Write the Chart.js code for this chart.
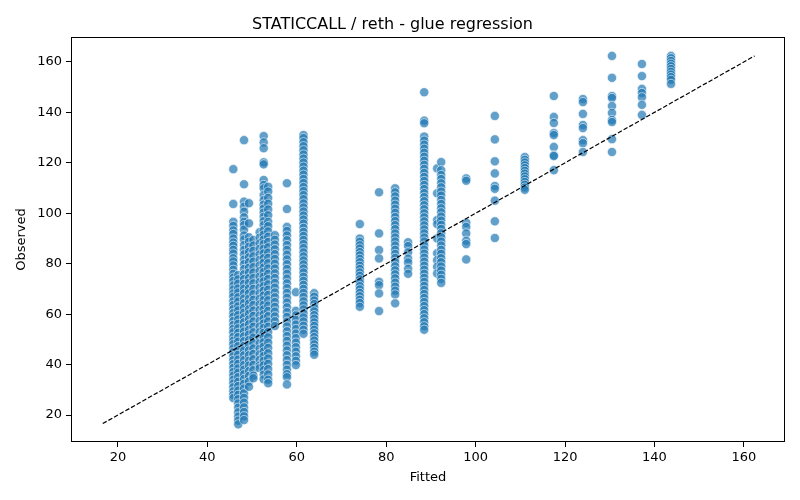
<!DOCTYPE html>
<html>
<head>
<meta charset="utf-8">
<script src="https://cdn.jsdelivr.net/npm/chart.js@4.4.1/dist/chart.umd.min.js"></script>
<style>
  html, body { margin: 0; padding: 0; background: #fff; }
  #wrap { width: 800px; height: 500px; }
</style>
</head>
<body>
<div id="wrap"><canvas id="glueChart"></canvas></div>
<script>
// fitted value of each column of points
const fitted = [45.8, 46.9, 48.2, 49.3, 50.3, 51.7, 52.6, 53.6, 55.1, 57.8, 59.8, 61.5, 63.9,
    74.1, 78.4, 82.0, 84.9, 88.5, 91.4, 92.3, 97.9, 104.3, 111.0, 117.5, 124.0, 130.5, 137.2, 143.7];

// observed values read per column
const obs458 = [117.5, 103.7, 96.6, 95, 93.2, 91.8, 90, 88.4, 87.1, 85.5, 84, 82.2, 80.9, 79.3, 77.6, 76, 74.5, 73.1, 71.4, 69.8,
    68.2, 66.9, 65.1, 63.6, 62, 60.4, 59, 57.3, 55.7, 54.2, 52.8, 51, 49.5, 48.1, 46.4, 44.9, 43.3, 41.8, 40.2, 38.7, 37.1, 35.6,
    34, 32.5, 31, 29.4, 28, 26.7];
const obs469 = [75.5, 73.8, 72.1, 70.2, 68.6, 66.7, 65, 63.1, 61.5, 59.6, 57.9, 56.2, 54.4, 52.6, 50.9, 49.1, 47.3, 45.6, 43.9, 42,
    40.3, 38.5, 36.8, 35, 33.2, 31.5, 29.7, 28, 26.3, 24.6, 22.9, 21.1, 19.4, 17.8, 16.3];
const obs482 = [129, 111.5, 104.6, 102.6, 100.6, 98.4, 96.6, 95.3, 93.5, 91.2, 89.6, 87.4, 85.5, 83.7, 81.6, 79.8, 77.9, 75.8, 73.9,
    72, 70.1, 68.3, 66.2, 64.4, 62.5, 60.6, 58.7, 56.8, 54.9, 53.1, 51.2, 49.3, 47.4, 45.6, 43.7, 41.8, 39.9, 38, 36.2, 34.3, 32.4,
    30.5, 28.6, 26.8, 24.9, 23, 21.2, 19.5, 18];
const obs493 = [104, 96, 90.5, 88.7, 86.7, 84.6, 82.5, 80.6, 78.4, 76.5, 74.3, 72.4, 70.2, 68.3, 66.1, 64.2, 62, 60.1, 57.9, 56,
    53.8, 51.9, 49.7, 47.8, 45.6, 43.7, 41.5, 39.6, 37.4, 35.5, 33.3, 31.2];
const obs503 = [89.4, 87.2, 85.1, 82.9, 80.8, 78.6, 76.5, 74.3, 72.2, 70, 67.9, 65.7, 63.6, 61.4, 59.3, 57.1, 55, 52.8, 50.7, 48.5,
    46.4, 44.2, 42.1, 39.9, 37.8, 35.6, 34.6];
const obs517 = [92.5, 90.3, 88.1, 85.9, 83.7, 81.5, 79.3, 77.1, 74.9, 72.7, 70.5, 68.3, 66.1, 63.9, 61.7, 59.5, 57.3, 55.1, 52.9,
    50.7, 48.5, 46.3, 44.1, 41.9, 39.7, 38.6];
const obs526 = [130.6, 128.1, 125.8, 120.2, 119.4, 113.2, 111.2, 109.9, 107.2, 105.2, 103.4, 101.9, 100.3, 98.6, 96.9, 95.3, 93.3,
    91.5, 89.6, 87.8, 85.9, 84.1, 82.2, 80.4, 78.5, 76.7, 74.8, 73, 71.1, 69.3, 67.4, 65.6, 63.7, 61.9, 60, 58.2, 56.3, 54.5, 52.6,
    50.8, 48.9, 47.1, 45.2, 43.4, 41.5, 39.7, 37.8, 36, 34.2];
const obs536 = [110.5, 108.6, 106.1, 103.8, 101.5, 99.2, 96.6, 94.9, 92.8, 90.7, 88.6, 86.5, 84.4, 82.3, 80.2, 78.1, 76, 73.9, 71.8,
    69.7, 67.6, 65.5, 63.4, 61.3, 59.2, 57.1, 55, 52.9, 50.8, 48.7, 46.6, 44.5, 42.4, 40.3, 38.2, 36.1, 34, 32.6];
const obs551 = [91.3, 89.5, 87.6, 85.7, 83.8, 81.9, 80, 78.1, 76.2, 74.3, 72.4, 70.5, 68.6, 66.7, 64.8, 62.9, 61, 59.1, 57.2, 55.3];
const obs578 = [111.9, 101.7, 94.6, 93, 91.2, 89.3, 87.4, 85.5, 83.6, 81.7, 79.8, 77.9, 76, 74.1, 72.2, 70.3, 68.4, 66.5, 64.6, 62.7,
    60.8, 58.9, 57, 55.1, 53.2, 51.3, 49.4, 47.5, 45.6, 43.7, 41.8, 39.9, 38, 36.2, 35, 32.1];
const obs598 = [68.7, 61.3, 59.5, 57.7, 55.9, 54.1, 52.3, 50.5, 48.7, 46.9, 45.1, 43.3, 41.5, 39.8];
const obs615 = [131, 129.8, 128.2, 126.6, 125, 123.3, 121.7, 120.1, 118.5, 116.9, 115.3, 113.6, 112, 110.4, 108.8, 107.2, 105.6,
    103.9, 102.3, 100.7, 99.1, 97.5, 95.9, 94.2, 92.6, 91, 89.4, 87.8, 86.2, 84.5, 82.9, 81.3, 79.7, 78.1, 76.5, 74.8, 73.2, 71.6,
    70, 68.4, 66.8, 65.1, 63.5, 61.9, 60.3, 58.7, 57.1, 55.4, 53.8, 52.2];
const obs639 = [68.3, 66.9, 65.4, 64, 62.5, 61.1, 59.6, 58.2, 56.7, 55.3, 53.8, 52.4, 50.9, 49.5, 48, 46.6, 45.1, 43.9];
const obs741 = [95.7, 90, 88.7, 87.3, 86, 84.6, 83.3, 81.9, 80.6, 79.2, 77.9, 76.5, 75.2, 73.8, 72.5, 71.1, 69.8, 68.4, 67.1, 65.7,
    64.4, 62.9];
const obs784 = [108.3, 92, 85.4, 82.1, 72.8, 71.5, 68.2, 61.2];
const obs820 = [109.9, 108.3, 106.7, 105, 103.4, 101.8, 100.2, 98.5, 96.9, 95.3, 93.7, 92, 90.4, 88.8, 87.2, 85.5, 83.9, 82.3, 80.7,
    79, 77.4, 75.8, 74.2, 72.5, 70.9, 69.3, 67.8, 64.3];
const obs849 = [88.5, 87, 84.5, 82, 80.5, 78, 76];
const obs885 = [148, 136.7, 135.7, 130.4, 128.8, 127.2, 125.6, 124, 122.4, 120.8, 119.2, 117.6, 116, 114.4, 112.8, 111.2, 109.6,
    108, 106.4, 104.8, 103.2, 101.6, 100, 98.4, 96.8, 95.2, 93.6, 92, 90.4, 88.8, 87.2, 85.6, 84, 82.4, 80.8, 79.2, 77.6, 76, 74.4,
    72.8, 71.2, 69.6, 68, 66.4, 64.8, 63.2, 61.6, 60, 58.4, 56.8, 55.2, 53.8];
const obs914 = [117.8, 107.9, 97.3, 95.7, 90, 84.1, 81.4, 78.8, 76.1];
const obs923 = [120.3, 117.1, 115.2, 113.6, 111.9, 110.3, 108.6, 107, 105.3, 103.7, 102, 100.4, 98.7, 97.1, 95.4, 93.8, 92.1, 90.5,
    88.8, 87.2, 85.5, 83.9, 82.2, 80.6, 78.9, 77.3, 75.6, 74, 72.4];
const obs979 = [113.8, 112.9, 96.2, 94.6, 92, 89.1, 87.8, 81.7];
const obs1043 = [138.6, 129.3, 120.6, 115.8, 110.8, 109.7, 105, 96.8, 90.2];
const obs1110 = [122.3, 121.2, 120.1, 119, 117.9, 116.8, 115.7, 114.6, 113.5, 112.4, 111.3, 110.2, 109.3];
const obs1175 = [146.5, 138.2, 135.8, 131.8, 131, 126.3, 123, 122.7, 117.1];
const obs1240 = [145.3, 144.1, 139.4, 135, 133.8, 129, 127.8, 124.3];
const obs1305 = [162.4, 153.7, 146.5, 145.7, 142.5, 139.8, 137, 136.2, 129.4, 124.3];
const obs1372 = [159.2, 154.4, 149.3, 147.7, 146, 143, 139];
const obs1437 = [162.4, 161.5, 160.4, 159.3, 158.3, 157.2, 156.1, 155, 154, 152.9, 151.3];

const observed = [obs458, obs469, obs482, obs493, obs503, obs517, obs526, obs536, obs551, obs578, obs598, obs615, obs639,
    obs741, obs784, obs820, obs849, obs885, obs914, obs923, obs979, obs1043, obs1110, obs1175, obs1240, obs1305, obs1372, obs1437];

// y = x reference line ends
const refLine = [16.6, 162.4];
const tickValues = [20, 40, 60, 80, 100, 120, 140, 160];

const points = [];
fitted.forEach((fx, i) => {
    observed[i].forEach(oy => points.push({ x: fx, y: oy }));
});

// full box around the plot, like matplotlib's spines
const frame = {
    id: 'frame',
    afterDatasetsDraw(chart) {
        const { ctx, chartArea: a } = chart;
        ctx.save();
        ctx.strokeStyle = '#000';
        ctx.lineWidth = 1;
        ctx.strokeRect(Math.round(a.left) + 0.5, Math.round(a.top) + 0.5,
            Math.round(a.right - a.left) - 1, Math.round(a.bottom - a.top) - 1);
        ctx.restore();
    }
};

const font = { family: 'DejaVu Sans', size: 13 };
const setTicks = scale => { scale.ticks = tickValues.map(v => ({ value: v })); };

Chart.defaults.color = '#000';
Chart.defaults.font.family = 'DejaVu Sans';

new Chart(document.getElementById('glueChart'), {
    type: 'scatter',
    data: {
        datasets: [{
            type: 'line',
            data: refLine.map(v => ({ x: v, y: v })),
            borderColor: '#000',
            borderWidth: 1.2,
            borderDash: [4.5, 2],
            pointRadius: 0,
            fill: false,
            order: 0
        }, {
            data: points,
            backgroundColor: 'rgba(31, 119, 180, 0.7)',
            borderColor: 'rgba(255, 255, 255, 0.7)',
            borderWidth: 0.8,
            pointRadius: 4.6,
            order: 1
        }]
    },
    options: {
        responsive: true,
        maintainAspectRatio: false,
        devicePixelRatio: 1,
        animation: false,
        layout: { padding: { top: 0, right: 15, bottom: 0, left: 0 } },
        plugins: {
            legend: { display: false },
            tooltip: { enabled: false },
            title: {
                display: true,
                text: 'STATICCALL / reth - glue regression',
                font: { family: 'DejaVu Sans', size: 16, weight: 'normal' },
                padding: { top: 15, bottom: 2.8 }
            }
        },
        scales: {
            x: {
                type: 'linear',
                min: 9.5,
                max: 169.2,
                afterBuildTicks: setTicks,
                afterFit: s => { s.height = 58; },
                grid: { drawOnChartArea: false, drawTicks: true, tickLength: 5, color: '#000' },
                border: { display: false },
                ticks: { font, padding: 3 },
                title: { display: true, text: 'Fitted', font, padding: { bottom: 15 } }
            },
            y: {
                type: 'linear',
                min: 9.3,
                max: 169.9,
                afterBuildTicks: setTicks,
                afterFit: s => { s.width = 71; },
                grid: { drawOnChartArea: false, drawTicks: true, tickLength: 5, color: '#000' },
                border: { display: false },
                ticks: { font, padding: 4 },
                title: { display: true, text: 'Observed', font, padding: { top: 14 } }
            }
        }
    },
    plugins: [frame]
});
</script>
</body>
</html>
